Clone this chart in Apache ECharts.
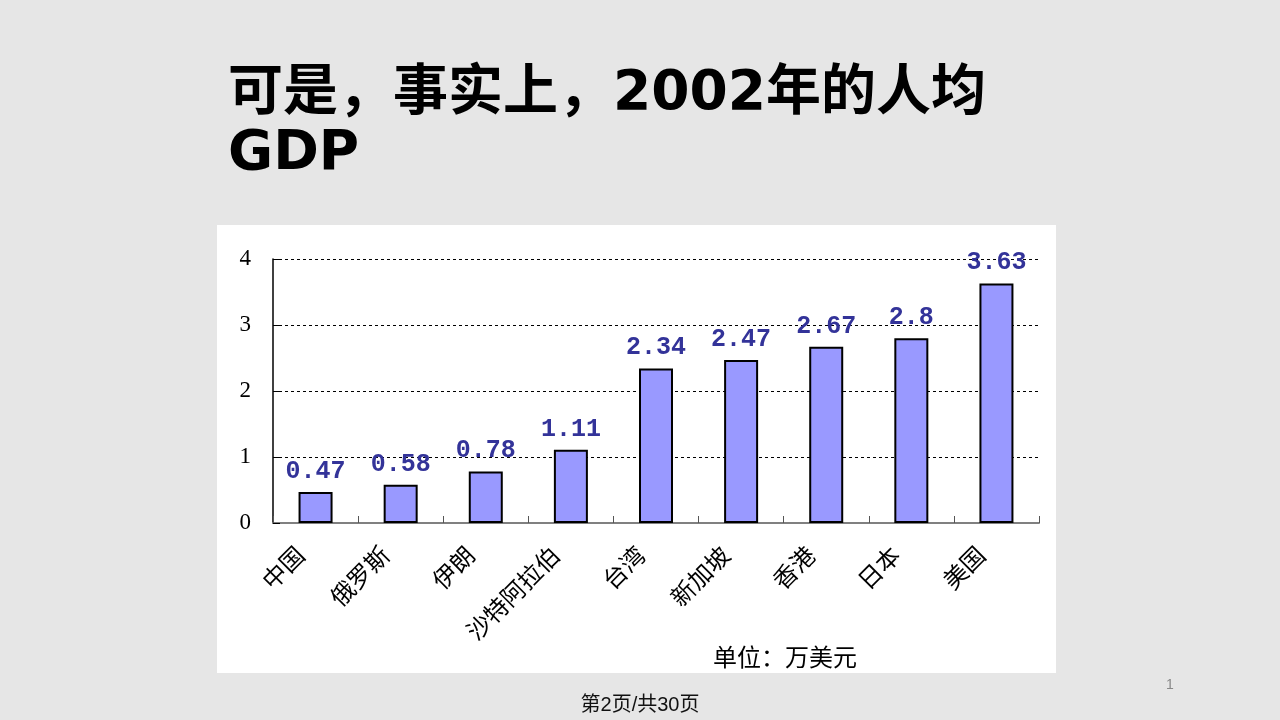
<!DOCTYPE html>
<html>
<head>
<meta charset="utf-8">
<script src="https://cdn.jsdelivr.net/npm/echarts@6/dist/echarts.min.js"></script>
<style>
html,body{margin:0;padding:0;background:#e6e6e6;}
#c{width:1280px;height:720px;}
</style>
</head>
<body>
<div id="c"></div>
<script>
const categories = ['中国','俄罗斯','伊朗','沙特阿拉伯','台湾','新加坡','香港','日本','美国'];
const gdpValues = [0.47, 0.58, 0.78, 1.11, 2.34, 2.47, 2.67, 2.8, 3.63];
const yTicks = [0, 1, 2, 3, 4];

const chart = echarts.init(document.getElementById('c'));
chart.setOption({
  backgroundColor: '#e6e6e6',
  animation: false,
  title: {
    text: '可是，事实上，2002年的人均\nGDP',
    left: 223,
    top: 60,
    textStyle: {
      fontSize: 55,
      fontWeight: 'bold',
      lineHeight: 60,
      color: '#000',
      fontFamily: '"DejaVu Sans", "Noto Sans CJK SC", sans-serif'
    }
  },
  graphic: [
    { type: 'rect', z: -10, shape: { x: 217, y: 225, width: 839, height: 448 }, style: { fill: '#ffffff' } },
    { type: 'text', left: 713, top: 645, style: { text: '单位：万美元', fontSize: 24, fill: '#000', fontFamily: '"Noto Sans CJK SC", sans-serif' } },
    { type: 'text', x: 640, y: 705, style: { text: '第2页/共30页', fontSize: 20, fill: '#111', textAlign: 'center', textVerticalAlign: 'middle', fontFamily: '"Liberation Sans", "Noto Sans CJK SC", sans-serif' } },
    { type: 'text', x: 1170, y: 685, style: { text: '1', fontSize: 14, fill: '#888', textAlign: 'center', textVerticalAlign: 'middle', fontFamily: '"Liberation Sans", sans-serif' } }
  ],
  grid: { left: 273, right: 241, top: 259, bottom: 197 },
  xAxis: {
    type: 'category',
    data: categories,
    boundaryGap: true,
    axisLine: { lineStyle: { color: '#808080', width: 2 } },
    axisTick: { show: true, inside: true, length: 7, alignWithLabel: false, lineStyle: { color: '#555', width: 1 } },
    axisLabel: {
      interval: 0,
      rotate: 45,
      margin: 12,
      padding: [0, 22, 0, 0],
      fontSize: 24,
      color: '#000',
      fontFamily: '"Noto Sans CJK SC", sans-serif'
    }
  },
  yAxis: {
    type: 'value',
    min: 0,
    max: 4,
    interval: 1,
    axisLine: { show: true, lineStyle: { color: '#000', width: 1.5 } },
    axisTick: { show: true, inside: true, length: 7, lineStyle: { color: '#000' } },
    axisLabel: {
      margin: 22,
      fontSize: 23,
      color: '#000',
      fontFamily: '"Liberation Serif", serif',
      formatter: function (v) { return yTicks.indexOf(v) >= 0 ? String(v) : ''; }
    },
    splitLine: { show: true, lineStyle: { color: '#000', type: [3, 3], width: 1 } }
  },
  series: [{
    type: 'bar',
    data: gdpValues,
    barWidth: 34,
    itemStyle: { color: '#9999ff', borderColor: '#000', borderWidth: 2 },
    label: {
      show: true,
      position: 'top',
      distance: 8,
      fontSize: 25,
      fontWeight: 'bold',
      color: '#333399',
      fontFamily: '"Liberation Mono", monospace'
    }
  }]
});
</script>
</body>
</html>
